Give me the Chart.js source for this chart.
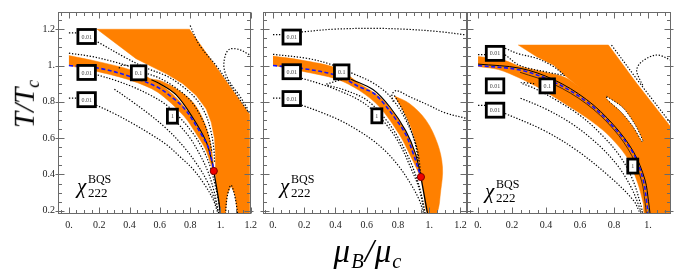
<!DOCTYPE html>
<html>
<head>
<meta charset="utf-8">
<script src="https://cdn.jsdelivr.net/npm/chart.js@4.4.1/dist/chart.umd.min.js"></script>
<style>
  body { margin: 0; background: #fff; }
  #wrap { position: relative; width: 680px; height: 280px; overflow: hidden; background: #fff; }
  canvas { position: absolute; top: 0; }
  .ttl { position: absolute; font-family: "Liberation Serif", serif; font-style: italic; color: #000; white-space: nowrap; line-height: 1; }
  .ttl sub { font-size: 62%; vertical-align: -0.3em; }
  #ylab { left: 26px; top: 104px; font-size: 29px; transform: translate(-50%, -50%) rotate(-90deg); }
  #xlab { left: 368px; top: 253px; font-size: 33px; letter-spacing: 1px; transform: translate(-50%, -50%); }
</style>
</head>
<body>
<div id="wrap">
  <canvas id="p1" width="232" height="240" style="left:30px"></canvas>
  <canvas id="p2" width="214" height="240" style="left:258px"></canvas>
  <canvas id="p3" width="216" height="240" style="left:464px"></canvas>
  <div class="ttl" id="ylab">T/T<sub>c</sub></div>
  <div class="ttl" id="xlab">μ<sub>B</sub>/μ<sub>c</sub></div>
</div>
<script>
// ejes
const xTickVals = [0, 0.2, 0.4, 0.6, 0.8, 1.0, 1.2];
const xTickLabels = ['0.', '0.2', '0.4', '0.6', '0.8', '1.', '1.2'];
const yTickVals = [0.2, 0.4, 0.6, 0.8, 1.0, 1.2];
const yTickLabels = ['0.2', '0.4', '0.6', '0.8', '1.', '1.2'];
const boxText = ['0.01', '0.01', '0.01', '0.1', '1'];

// ---------- panel 1 ----------
const p1Big = [[0.186,1.2],[0.796,1.2],[1.19,0.734],[1.19,0.182],[1.114,0.182],[1.095,0.29],[1.07,0.338],[1.045,0.29],[1.033,0.182],[1.0,0.182],[0.985,0.27],[0.972,0.35],[0.965,0.43],[0.967,0.504],[0.961,0.596],[0.939,0.688],[0.906,0.761],[0.84,0.835],[0.752,0.9],[0.643,0.955],[0.533,1.0],[0.443,1.038],[0.186,1.2]];
const p1Band = [[0,1.055],[0.2,1.02],[0.41,0.975],[0.586,0.905],[0.7,0.83],[0.8,0.73],[0.88,0.625],[0.93,0.52],[0.956,0.419],[0.94,0.45],[0.9,0.54],[0.85,0.61],[0.76,0.72],[0.586,0.853],[0.41,0.918],[0.2,0.965],[0,1.0]];
const p1Lens = [[0.544,0.925],[0.6,0.918],[0.708,0.872],[0.818,0.798],[0.884,0.706],[0.928,0.596],[0.95,0.485],[0.956,0.425],[0.945,0.467],[0.906,0.58],[0.818,0.712],[0.708,0.838],[0.6,0.9],[0.544,0.925]];
const p1Blue = [[0,1.0],[0.2,0.985],[0.41,0.938],[0.586,0.88],[0.68,0.825],[0.76,0.765],[0.82,0.695],[0.88,0.612],[0.917,0.555],[0.945,0.47],[0.956,0.419]];
const p1Solid = [[0.956,0.419],[0.972,0.34],[0.988,0.26],[1.0,0.182]];
const p1Edge = [[0.544,0.922],[0.6,0.9],[0.708,0.838],[0.818,0.712],[0.906,0.58],[0.945,0.467],[0.956,0.419]];
const p1Dots = [
  [[0.0,1.18],[0.05,1.18]],
  [[0.19,1.13],[0.37,1.045],[0.5,0.99],[0.65,0.94],[0.75,0.885],[0.84,0.815],[0.9,0.735],[0.935,0.645],[0.955,0.55],[0.962,0.46]],
  [[0,1.068],[0.15,1.05],[0.3,1.02],[0.4,0.995]],
  [[0.33,0.985],[0.345,1.0],[0.4,1.0]],
  [[0.52,0.955],[0.6,0.93],[0.7,0.88],[0.8,0.81],[0.87,0.72],[0.92,0.62],[0.945,0.52]],
  [[0.19,0.948],[0.3,0.92],[0.42,0.883],[0.53,0.84],[0.64,0.785],[0.73,0.715],[0.82,0.625],[0.88,0.545],[0.93,0.45],[0.965,0.34],[0.99,0.24],[1.0,0.182]],
  [[0.3,0.87],[0.42,0.8],[0.533,0.73],[0.64,0.655],[0.75,0.56],[0.85,0.45],[0.92,0.35],[0.96,0.265],[0.99,0.182]],
  [[0.72,0.68],[0.8,0.6],[0.87,0.5],[0.92,0.41],[0.96,0.3],[0.985,0.2]],
  [[0.0,0.82],[0.05,0.82]],
  [[0.18,0.782],[0.3,0.735],[0.42,0.681],[0.533,0.625],[0.643,0.565],[0.73,0.5],[0.818,0.43],[0.89,0.35],[0.95,0.265],[0.985,0.182]],
  [[0.8,1.22],[0.862,1.112],[0.972,1.0],[1.08,0.872],[1.17,0.761],[1.19,0.74]],
  [[1.19,1.06],[1.125,1.088],[1.06,1.09],[1.03,1.05],[1.025,0.98],[1.06,0.91],[1.125,0.835],[1.18,0.761]],
  [[1.033,0.182],[1.045,0.28],[1.07,0.34],[1.095,0.28],[1.114,0.182]]
];
const p1Crit = [[0.956,0.419]];
const p1Boxes = [[0.117,1.16],[0.117,0.962],[0.117,0.812],[0.46,0.96],[0.683,0.721]];
const p1Chi = [0.053,0.296];

// ---------- panel 2 ----------
const p2Band = [[0,1.052],[0.18,1.03],[0.41,0.985],[0.554,0.9],[0.682,0.828],[0.809,0.699],[0.904,0.533],[0.947,0.386],[0.894,0.478],[0.809,0.62],[0.682,0.772],[0.554,0.862],[0.41,0.925],[0.18,0.97],[0,1.002]];
const p2Crescent = [[0.777,0.832],[0.873,0.791],[0.979,0.699],[1.053,0.57],[1.085,0.441],[1.074,0.312],[1.046,0.182],[0.99,0.182],[0.965,0.3],[0.947,0.386],[0.93,0.48],[0.915,0.57],[0.873,0.681],[0.82,0.772],[0.777,0.832]];
const p2Blue = [[0,1.0],[0.18,0.985],[0.41,0.945],[0.554,0.882],[0.64,0.85],[0.7,0.8],[0.79,0.7],[0.85,0.62],[0.9,0.51],[0.947,0.386]];
const p2Solid = [[0.947,0.386],[0.965,0.3],[0.99,0.182]];
const p2Edge = [[0.5,0.925],[0.64,0.868],[0.75,0.77],[0.85,0.64],[0.91,0.52],[0.947,0.39]];
const p2Dots = [
  [[0,1.17],[0.06,1.17]],
  [[0.183,1.185],[0.384,1.2],[0.639,1.205],[0.85,1.2],[1.062,1.187],[1.242,1.168]],
  [[0,1.062],[0.214,1.04],[0.35,1.012],[0.5,0.96],[0.639,0.905],[0.75,0.83],[0.85,0.7],[0.92,0.55],[0.947,0.4]],
  [[0.77,0.8],[0.762,0.84],[0.79,0.862],[0.87,0.83],[1.0,0.78],[1.1,0.74],[1.242,0.708]],
  [[0.46,0.928],[0.37,0.905],[0.342,0.895],[0.45,0.868],[0.6,0.81],[0.72,0.705],[0.8,0.605],[0.87,0.49],[0.92,0.38],[0.955,0.27],[0.975,0.182]],
  [[0.183,0.93],[0.3,0.9],[0.427,0.86],[0.55,0.81],[0.639,0.754],[0.73,0.67],[0.809,0.57],[0.88,0.44],[0.936,0.32],[0.97,0.182]],
  [[0,0.82],[0.06,0.82]],
  [[0.183,0.782],[0.3,0.745],[0.427,0.699],[0.54,0.645],[0.639,0.588],[0.73,0.52],[0.809,0.441],[0.88,0.35],[0.936,0.26],[0.965,0.182]],
  [[0.777,0.835],[0.82,0.77],[0.87,0.675],[0.912,0.565],[0.93,0.47]]
];
const p2Crit = [[0.947,0.386]];
const p2Boxes = [[0.12,1.157],[0.12,0.966],[0.12,0.818],[0.44,0.965],[0.665,0.723]];
const p2Chi = [0.045,0.296];

// ---------- panel 3 ----------
const p3Band = [[0,0.995],[0.12,0.978],[0.247,0.93],[0.365,0.874],[0.443,0.83],[0.541,0.772],[0.639,0.712],[0.757,0.625],[0.875,0.496],[0.94,0.35],[0.972,0.24],[0.982,0.182],[1.06,0.182],[1.04,0.35],[0.98,0.52],[0.88,0.66],[0.75,0.78],[0.6,0.88],[0.51,0.935],[0.4,0.962],[0.247,0.995],[0.149,1.03],[0,1.05]];
const p3Big = [[0.51,0.945],[0.443,1.003],[0.345,1.049],[0.237,1.113],[0.767,1.113],[0.933,0.902],[1.135,0.66],[1.135,0.182],[1.0,0.182],[0.95,0.45],[0.85,0.63],[0.7,0.8],[0.51,0.945]];
const p3Lens = [[0.757,0.83],[0.85,0.77],[0.92,0.68],[0.97,0.585],[0.965,0.58],[0.91,0.665],[0.84,0.745],[0.757,0.815],[0.757,0.83]];
const p3Blue = [[0,1.0],[0.247,0.975],[0.443,0.911],[0.639,0.8],[0.796,0.662],[0.914,0.515],[0.972,0.367],[0.992,0.25],[1.0,0.182]];
const p3SolidA = [[0,1.008],[0.247,0.985],[0.443,0.923],[0.639,0.812],[0.796,0.674],[0.914,0.525],[0.982,0.37],[1.003,0.25],[1.012,0.182]];
const p3SolidB = [[0.247,0.963],[0.443,0.898],[0.639,0.788],[0.796,0.65],[0.904,0.505],[0.962,0.364],[0.982,0.25],[0.99,0.182]];
const p3Dots = [
  [[0,1.06],[0.041,1.06]],
  [[0.159,1.095],[0.237,1.065],[0.345,1.04],[0.443,0.995],[0.51,0.945]],
  [[0.159,1.06],[0.247,1.0],[0.4,0.965],[0.51,0.945]],
  [[0.33,0.9],[0.253,0.905],[0.33,0.875],[0.45,0.815],[0.6,0.725],[0.72,0.625],[0.835,0.5],[0.91,0.37],[0.955,0.24],[0.97,0.182]],
  [[0.25,0.82],[0.4,0.76],[0.55,0.68],[0.7,0.57],[0.82,0.45],[0.9,0.33],[0.945,0.23],[0.962,0.182]],
  [[0,0.78],[0.041,0.78]],
  [[0.159,0.736],[0.384,0.644],[0.58,0.533],[0.776,0.386],[0.914,0.257],[0.955,0.182]],
  [[0.785,1.113],[0.95,0.905],[1.135,0.68]],
  [[1.135,1.03],[1.051,1.058],[0.963,1.021],[0.933,0.975],[0.953,0.92],[0.97,0.89]]
];
const p3Boxes = [[0.1,1.067],[0.1,0.888],[0.1,0.754],[0.407,0.888],[0.91,0.446]];
const p3Chi = [0.041,0.268];

const ORANGE = '#ff8000';
const SERIF = '"Liberation Serif", "DejaVu Serif", serif';

const pts = a => a.map(p => ({ x: p[0], y: p[1] }));

function area(a, color, order, tension) {
  return { data: pts(a), showLine: true, fill: 'shape', backgroundColor: color,
           borderColor: color, borderWidth: 0.5, pointRadius: 0, order, tension: tension || 0 };
}
function dotted(a) {
  return { data: pts(a), showLine: true, fill: false, borderColor: '#000',
           borderWidth: 1.2, borderDash: [1.3, 1.7], pointRadius: 0, order: 5, tension: 0.35 };
}
function solid(a, w) {
  return { data: pts(a), showLine: true, fill: false, borderColor: '#000',
           borderWidth: w || 1.3, pointRadius: 0, order: 3, tension: 0.35 };
}
function blue(a) {
  return { data: pts(a), showLine: true, fill: false, borderColor: '#1414ff',
           borderWidth: 1.6, borderDash: [4, 2.5], pointRadius: 0, order: 2, tension: 0.35 };
}
function crit(a) {
  return { data: pts(a), showLine: false, pointRadius: 3.6, backgroundColor: '#f00000',
           borderColor: '#7a0000', borderWidth: 1, order: 1 };
}

// marco con marcas, cajas de contorno y etiqueta chi
const decoPlugin = {
  id: 'deco',
  afterDatasetsDraw(chart) {
    const { ctx, chartArea: ca, scales: { x, y } } = chart;
    const cfg = chart.options.plugins.deco;
    ctx.save();

    // cajas de las curvas de nivel
    ctx.font = '6px ' + SERIF;
    ctx.textAlign = 'center';
    ctx.textBaseline = 'middle';
    cfg.boxes.forEach((b, i) => {
      const t = boxText[i];
      const px = x.getPixelForValue(b[0]);
      const py = y.getPixelForValue(b[1]);
      const w = Math.max(8, ctx.measureText(t).width + 7);
      const h = 14;
      ctx.fillStyle = '#fff';
      ctx.fillRect(px - w / 2, py - h / 2, w, h);
      ctx.lineWidth = 2.8;
      ctx.strokeStyle = '#000';
      ctx.strokeRect(px - w / 2, py - h / 2, w, h);
      ctx.fillStyle = '#444';
      ctx.fillText(t, px, py + 0.5);
    });

    // chi_222^BQS
    const cx = x.getPixelForValue(cfg.chi[0]);
    const cy = y.getPixelForValue(cfg.chi[1]);
    ctx.fillStyle = '#000';
    ctx.textAlign = 'left';
    ctx.textBaseline = 'alphabetic';
    ctx.font = 'italic 21px ' + SERIF;
    ctx.fillText('χ', cx, cy);
    ctx.font = '12px ' + SERIF;
    ctx.fillText('BQS', cx + 11, cy - 10);
    ctx.font = '13px ' + SERIF;
    ctx.fillText('222', cx + 11, cy + 4);

    // marco
    ctx.strokeStyle = '#6a6a6a';
    ctx.lineWidth = 1;
    const L = Math.round(ca.left) + 0.5, R = Math.round(ca.right) - 0.5;
    const T = Math.round(ca.top) + 0.5, B = Math.round(ca.bottom) - 0.5;
    ctx.strokeRect(L, T, R - L, B - T);
    ctx.beginPath();
    for (let k = Math.ceil(x.min / 0.05 - 1e-6); k * 0.05 <= x.max + 1e-6; k++) {
      const px = Math.round(x.getPixelForValue(k * 0.05)) + 0.5;
      const len = k % 4 === 0 ? 6 : 3.5;
      ctx.moveTo(px, B); ctx.lineTo(px, B - len);
      ctx.moveTo(px, T); ctx.lineTo(px, T + len);
    }
    for (let k = Math.ceil(y.min / 0.05 - 1e-6); k * 0.05 <= y.max + 1e-6; k++) {
      const py = Math.round(y.getPixelForValue(k * 0.05)) + 0.5;
      const major = k % 4 === 0;
      const len = major ? 6 : 3.5;
      const out = major ? 3 : 0;
      ctx.moveTo(L - out, py); ctx.lineTo(L + len, py);
      ctx.moveTo(R + out, py); ctx.lineTo(R - len, py);
    }
    ctx.stroke();
    ctx.restore();
  }
};

function tickLabel(vals, labels) {
  return v => {
    const i = vals.findIndex(t => Math.abs(t - v) < 1e-6);
    return i < 0 ? '' : labels[i];
  };
}

function panel(id, o) {
  return new Chart(document.getElementById(id), {
    type: 'scatter',
    data: { datasets: o.datasets },
    options: {
      responsive: false,
      animation: false,
      layout: { padding: { left: o.padL, right: o.padR, top: 12, bottom: 0 } },
      plugins: {
        legend: { display: false },
        tooltip: { enabled: false },
        deco: { boxes: o.boxes, chi: o.chi }
      },
      scales: {
        x: {
          type: 'linear', min: o.xMin, max: o.xMax,
          afterBuildTicks: s => { s.ticks = xTickVals.filter(v => v >= o.xMin && v <= o.xMax + 1e-6).map(v => ({ value: v })); },
          afterFit: s => { s.height = 26; },
          grid: { display: false, drawTicks: false },
          border: { display: false },
          ticks: { autoSkip: false, maxRotation: 0, padding: 5, color: '#222',
                   font: { family: SERIF, size: 10 }, callback: tickLabel(xTickVals, xTickLabels) }
        },
        y: {
          type: 'linear', min: 0.182, max: 1.295,
          display: o.showY,
          afterBuildTicks: s => { s.ticks = yTickVals.map(v => ({ value: v })); },
          afterFit: s => { s.width = o.showY ? 28 : 0; },
          grid: { display: false, drawTicks: false },
          border: { display: false },
          ticks: { autoSkip: false, padding: 3, color: '#222',
                   font: { family: SERIF, size: 10 }, callback: tickLabel(yTickVals, yTickLabels) }
        }
      }
    },
    plugins: [decoPlugin]
  });
}

panel('p1', {
  xMin: -0.072, xMax: 1.2, padL: 0, padR: 10.6, showY: true,
  boxes: p1Boxes, chi: p1Chi,
  datasets: [
    area(p1Big, ORANGE, 10), area(p1Band, ORANGE, 10, 0.3), area(p1Lens, ORANGE, 10, 0.3),
    ...p1Dots.map(dotted),
    solid(p1Solid), solid(p1Edge, 1.1),
    blue(p1Blue), crit(p1Crit)
  ]
});

panel('p2', {
  xMin: -0.064, xMax: 1.242, padL: 5, padR: 4, showY: false,
  boxes: p2Boxes, chi: p2Chi,
  datasets: [
    area(p2Band, ORANGE, 10, 0.3), area(p2Crescent, ORANGE, 10, 0.35),
    ...p2Dots.map(dotted),
    solid(p2Solid), solid(p2Edge, 1.1),
    blue(p2Blue), crit(p2Crit)
  ]
});

const lens3 = area(p3Lens, '#ffffff', 9, 0.3);
lens3.borderColor = '#000'; lens3.borderWidth = 1; lens3.borderDash = [1.3, 1.7];

panel('p3', {
  xMin: -0.065, xMax: 1.135, padL: 3, padR: 9, showY: false,
  boxes: p3Boxes, chi: p3Chi,
  datasets: [
    area(p3Big, ORANGE, 10), area(p3Band, ORANGE, 10, 0.3), lens3,
    ...p3Dots.map(dotted),
    solid(p3SolidA, 1.0), solid(p3SolidB, 0.7),
    blue(p3Blue)
  ]
});
</script>
</body>
</html>
